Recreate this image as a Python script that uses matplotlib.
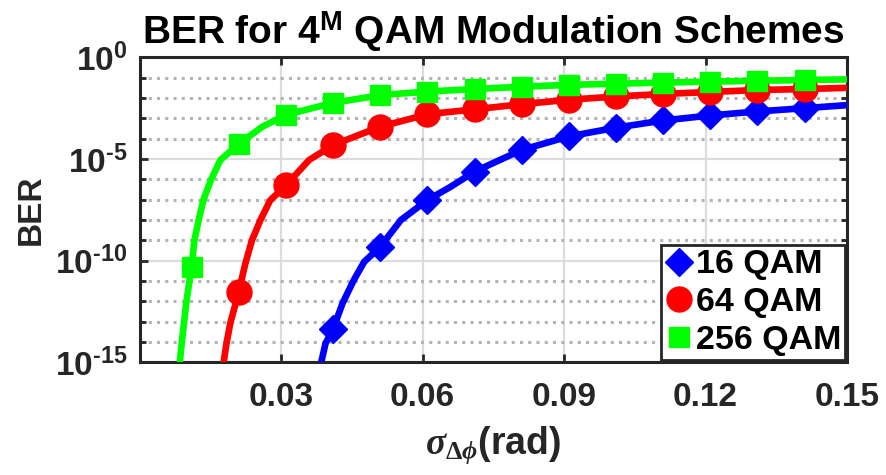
import numpy as np
import matplotlib
matplotlib.use("Agg")
import matplotlib.pyplot as plt
from matplotlib.ticker import FixedLocator, NullFormatter

plt.rcParams['font.family'] = ['Liberation Sans', 'DejaVu Sans']
plt.rcParams['font.weight'] = 'bold'
plt.rcParams['mathtext.fontset'] = 'custom'
plt.rcParams['mathtext.rm'] = 'Liberation Serif'
plt.rcParams['mathtext.it'] = 'Liberation Serif:italic'
plt.rcParams['mathtext.bf'] = 'Liberation Sans:bold'

# marker positions (sigma, rad)
x_mark = [0.011, 0.021, 0.031, 0.041, 0.051, 0.061, 0.071,
          0.081, 0.091, 0.101, 0.111, 0.121, 0.131, 0.141]

# BER at the markers
ber16_mark = [4.2e-14, 4.8e-10, 9.5e-8, 2.4e-6, 2.8e-5, 1.3e-4,
              3.5e-4, 7.9e-4, 1.4e-3, 2.2e-3, 3.2e-3]
ber64_mark = [2.9e-12, 5.0e-7, 4.9e-5, 3.9e-4, 1.6e-3, 2.8e-3, 5.0e-3,
              8.3e-3, 1.2e-2, 1.6e-2, 2.0e-2, 2.5e-2, 2.8e-2]
ber256_mark = [5.0e-11, 5.5e-5, 1.5e-3, 5.8e-3, 1.4e-2, 2.1e-2, 2.8e-2,
               3.6e-2, 4.5e-2, 5.1e-2, 5.8e-2, 6.5e-2, 7.1e-2, 7.8e-2]

# curves (denser where they are steep)
x16_line = [0.0385, 0.0394, 0.041, 0.0430, 0.0454, 0.0476, 0.051, 0.0554, 0.061, 0.066,
            0.071, 0.081, 0.091, 0.101, 0.111, 0.121, 0.131, 0.141, 0.150]
ber16_line = [1e-15, 8.3e-15, 4.2e-14, 7.8e-13, 1.1e-11, 8.7e-11, 4.8e-10, 1.0e-8, 9.5e-8, 4.4e-7,
              2.4e-6, 2.8e-5, 1.3e-4, 3.5e-4, 7.9e-4, 1.4e-3, 2.2e-3, 3.2e-3, 4.5e-3]

x64_line = [0.0178, 0.0184, 0.0192, 0.021, 0.0224, 0.0238, 0.0256, 0.0277, 0.031, 0.0359,
            0.041, 0.051, 0.061, 0.071, 0.081, 0.091, 0.101, 0.111, 0.121, 0.131, 0.141, 0.150]
ber64_line = [1e-15, 8.3e-15, 8.1e-14, 2.9e-12, 7.2e-11, 1.0e-9, 1.0e-8, 9.5e-8, 5.0e-7, 8.9e-6,
              4.9e-5, 3.9e-4, 1.6e-3, 2.8e-3, 5.0e-3, 8.3e-3, 1.2e-2, 1.6e-2, 2.0e-2, 2.5e-2,
              2.8e-2, 3.2e-2]

x256_line = [0.0085, 0.0089, 0.00985, 0.011, 0.0116, 0.0125, 0.0135, 0.0151, 0.0171, 0.021,
             0.026, 0.031, 0.041, 0.051, 0.061, 0.071, 0.081, 0.091, 0.101, 0.111, 0.121,
             0.131, 0.141, 0.150]
ber256_line = [1e-15, 8.3e-15, 7.8e-13, 5.0e-11, 1.0e-9, 1.0e-8, 9.5e-8, 9.3e-7, 8.9e-6, 5.5e-5,
               3.9e-4, 1.5e-3, 5.8e-3, 1.4e-2, 2.1e-2, 2.8e-2, 3.6e-2, 4.5e-2, 5.1e-2, 5.8e-2,
               6.5e-2, 7.1e-2, 7.8e-2, 8.3e-2]

x_ticks = [0.03, 0.06, 0.09, 0.12, 0.15]
x_ticklabels = ['0.03', '0.06', '0.09', '0.12', '0.15']
y_major = [1e-15, 1e-10, 1e-5, 1e0]
y_ticklabels = ['$\\mathbf{10^{\u201015}}$', '$\\mathbf{10^{\u201010}}$',
                '$\\mathbf{10^{\u20105}}$', '$\\mathbf{10^{0}}$']
y_minor = [10.0 ** k for k in range(-14, 0) if k % 5 != 0]

fig = plt.figure(figsize=(8.86, 4.75), dpi=100)
ax = fig.add_axes([0.1577, 0.2375, 0.7983, 0.6415])

# lines
ax.plot(x16_line, ber16_line, color=(0, 0, 1), lw=4.8, zorder=3, solid_joinstyle='round')
ax.plot(x64_line, ber64_line, color=(1, 0, 0), lw=4.8, zorder=3, solid_joinstyle='round')
ax.plot(x256_line, ber256_line, color=(0, 1, 0), lw=4.8, zorder=3, solid_joinstyle='round')

# markers
ax.plot(x_mark[3:], ber16_mark, ls='none', marker='D', ms=14.5, color=(0, 0, 1),
        mec=(0, 0, 1), label='16 QAM', zorder=4)
ax.plot(x_mark[1:], ber64_mark, ls='none', marker='o', ms=18, color=(1, 0, 0),
        mec=(1, 0, 0), label='64 QAM', zorder=4)
ax.plot(x_mark, ber256_mark, ls='none', marker='s', ms=14.5, color=(0, 1, 0),
        mec=(0, 1, 0), label='256 QAM', zorder=4)

ax.set_yscale('log')
ax.set_xlim(0, 0.15)
ax.set_ylim(1e-15, 1e0)

ax.set_xticks(x_ticks)
ax.set_xticklabels(x_ticklabels)
ax.yaxis.set_major_locator(FixedLocator(y_major))
ax.set_yticklabels(y_ticklabels)
ax.yaxis.set_minor_locator(FixedLocator(y_minor))
ax.yaxis.set_minor_formatter(NullFormatter())

ax.tick_params(axis='both', which='major', direction='in', length=6, width=2,
               labelsize=24, colors='#262626', top=True, right=True)
ax.tick_params(axis='x', which='major', pad=14)
ax.tick_params(axis='y', which='major', pad=9)
ax.tick_params(axis='y', which='minor', direction='in', length=4, width=2,
               colors='#262626', right=True)

# grids
ax.grid(True, which='major', color='#dcdcdc', lw=1.6, ls='-', zorder=0)
ax.yaxis.grid(True, which='minor', color='#b4b4b4', lw=2.2, ls=(0, (1, 1.7)), zorder=0)
ax.set_axisbelow(True)

for s in ax.spines.values():
    s.set_linewidth(2.2)
    s.set_color('#262626')

ax.set_title(r'BER for 4$^{\mathbf{M}}$ QAM Modulation Schemes', fontsize=28,
             fontweight='bold', pad=10, color='black')
ax.set_ylabel('BER', fontsize=24, fontweight='bold', labelpad=6, color='#262626')
ax.set_xlabel(r'$\sigma_{\Delta\phi}$(rad)', fontsize=27, fontweight='bold',
              labelpad=8, color='#262626')

leg = ax.legend(loc='lower right', fontsize=24.5, frameon=True, fancybox=False,
                framealpha=1, edgecolor='#262626', borderaxespad=0.06,
                handlelength=0.8, handletextpad=0.1, labelspacing=0.2,
                borderpad=0.12, markerscale=1.0)
leg.get_frame().set_linewidth(2)
for t in leg.get_texts():
    t.set_color('black')

fig.savefig('out.png', dpi=100)
